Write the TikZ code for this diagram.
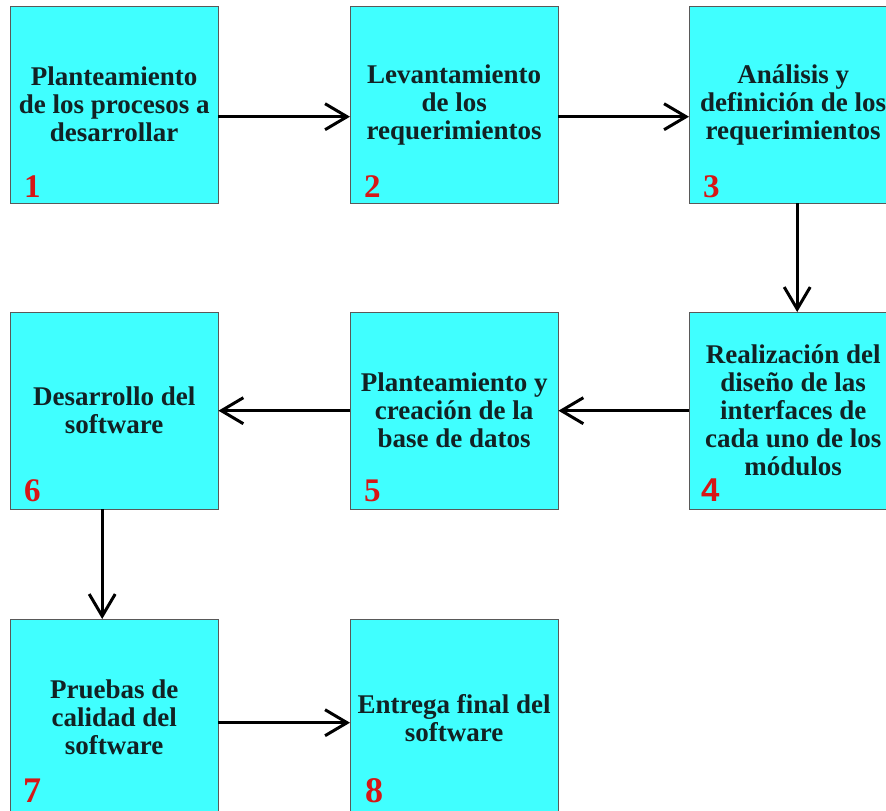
\documentclass[tikz,border=0pt]{standalone}
\usepackage{fontspec}
\setmainfont{Liberation Serif}
\newfontfamily\numsans{Liberation Sans}
\usetikzlibrary{arrows.meta}
\usetikzlibrary{positioning}
\definecolor{boxcyan}{RGB}{64,255,255}
\definecolor{boxtext}{RGB}{18,34,36}
\definecolor{numred}{RGB}{214,22,22}
\tikzset{
    stage/.style={draw=gray!70!black,fill=boxcyan,minimum width=208pt,minimum height=197pt,
        anchor=north west,inner sep=0pt,align=center,text=boxtext,
        font=\fontsize{27}{28}\selectfont\bfseries},
    stagenum/.style={anchor=base west,text=numred,inner sep=0pt,
        font=\fontsize{33}{33}\selectfont\bfseries},
    flow/.style={-{Straight Barb[length=22pt,width=26pt]},line width=3pt,black},
}
\begin{document}
\begin{tikzpicture}[x=1pt,y=-1pt]
\clip (0,0) rectangle (886,811);
% first row
\node[stage] (s1) at (10,6) {Planteamiento\\de los procesos a\\desarrollar};
\node[stage] (s2) at (350,6) {Levantamiento\\de los\\requerimientos};
\node[stage] (s3) at (689,6) {Análisis y\\definición de los\\requerimientos};
% second row
\node[stage] (s4) at (689,312) {Realización del\\diseño de las\\interfaces de\\cada uno de los\\módulos};
\node[stage] (s5) at (350,312) {Planteamiento y\\creación de la\\base de datos};
\node[stage] (s6) at (10,312) {Desarrollo del\\software};
% third row
\node[stage] (s7) at (10,619) {Pruebas de\\calidad del\\software};
\node[stage] (s8) at (350,619) {Entrega final del\\software};
% numbers
\node[stagenum] (n1) at ([xshift=14pt,yshift=6pt]s1.south west) {1};
\node[stagenum] (n2) at ([xshift=14pt,yshift=6pt]s2.south west) {2};
\node[stagenum] (n3) at ([xshift=14pt,yshift=6pt]s3.south west) {3};
\node[stagenum,font=\fontsize{33}{33}\selectfont\bfseries\numsans] (n4) at ([xshift=12pt,yshift=8pt]s4.south west) {4};
\node[stagenum] (n5) at ([xshift=14pt,yshift=8pt]s5.south west) {5};
\node[stagenum] (n6) at ([xshift=14pt,yshift=8pt]s6.south west) {6};
\node[stagenum,font=\fontsize{36}{36}\selectfont\bfseries] (n7) at ([xshift=13pt,yshift=14pt]s7.south west) {7};
\node[stagenum,font=\fontsize{36}{36}\selectfont\bfseries] (n8) at ([xshift=15pt,yshift=14pt]s8.south west) {8};
% arrows
\draw[flow] ([yshift=-12pt]s1.east) -- ([yshift=-12pt]s2.west);
\draw[flow] ([yshift=-12pt]s2.east) -- ([yshift=-12pt]s3.west);
\draw[flow] ([xshift=4pt]s3.south) -- ([xshift=4pt]s4.north);
\draw[flow] (s4.west) -- (s5.east);
\draw[flow] (s5.west) -- (s6.east);
\draw[flow] ([xshift=-12pt]s6.south) -- ([xshift=-12pt]s7.north);
\draw[flow] ([yshift=-5pt]s7.east) -- ([yshift=-5pt]s8.west);
\end{tikzpicture}
\end{document}
